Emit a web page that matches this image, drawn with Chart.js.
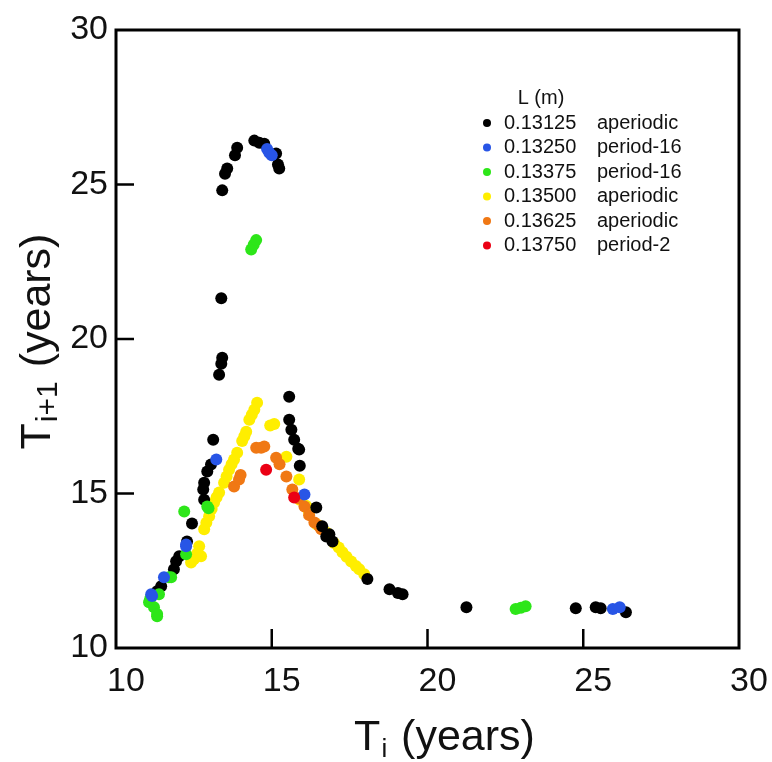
<!DOCTYPE html>
<html>
<head>
<meta charset="utf-8">
<script src="https://cdn.jsdelivr.net/npm/chart.js@4/dist/chart.umd.min.js"></script>
<style>
  html, body { margin: 0; padding: 0; background: #fff; overflow: hidden; }
  #wrap { width: 772px; height: 762px; }
</style>
</head>
<body>
<div id="wrap"><canvas id="c" width="772" height="762"></canvas></div>
<script>
// ===== data =====
const lengths = ['0.13125', '0.13250', '0.13375', '0.13500', '0.13625', '0.13750'];
const regimes = ['aperiodic', 'period-16', 'period-16', 'aperiodic', 'aperiodic', 'period-2'];
const colors  = ['#000000', 'rgb(40,85,230)', 'rgb(45,230,25)', 'rgb(255,238,0)', 'rgb(240,120,20)', 'rgb(235,0,20)'];
// stacking: lower number is drawn on top (red, blue, green over black, black over orange/yellow)
const drawOrder = [3, 1, 2, 5, 4, 0];
const xTicks = [10, 15, 20, 25, 30];
const yTicks = [10, 15, 20, 25, 30];

// L = 0.13125 (aperiodic)
const blackX = [11.32, 11.45, 11.86, 11.93, 12.03, 12.28, 12.44, 12.83, 12.80, 12.83, 12.93, 13.05, 13.12,
  13.31, 13.38, 13.41, 13.38, 13.41, 13.50, 13.57, 13.82, 13.89, 14.44, 14.60, 14.76, 15.14, 15.20, 15.24,
  15.56, 15.56, 15.63, 15.72, 15.85, 15.88, 15.90, 16.43, 16.62, 16.75, 16.85, 16.95, 18.07, 18.78, 19.05,
  19.20, 21.25, 24.76, 25.40, 25.56, 26.37];
const blackY = [11.84, 12.00, 12.55, 12.81, 12.97, 13.45, 14.03, 14.80, 15.13, 15.35, 15.71, 15.94, 16.74,
  18.84, 19.20, 19.39, 21.32, 24.81, 25.35, 25.52, 25.95, 26.19, 26.42, 26.35, 26.32, 26.00, 25.65, 25.52,
  18.13, 17.39, 17.06, 16.74, 16.45, 16.42, 15.90, 14.55, 13.94, 13.61, 13.68, 13.45, 12.23, 11.90, 11.78,
  11.74, 11.32, 11.29, 11.32, 11.29, 11.16];

// L = 0.13250 (period-16)
const blueX = [11.13, 11.16, 11.54, 12.25, 12.25, 13.22, 14.85, 14.92, 15.00, 16.05, 25.95, 26.17];
const blueY = [11.74, 11.68, 12.29, 13.29, 13.35, 16.10, 26.15, 26.03, 25.95, 14.97, 11.26, 11.32];

// L = 0.13375 (period-16)
const greenX = [11.06, 11.10, 11.22, 11.32, 11.32, 11.38, 11.70, 11.77, 12.25, 12.19, 12.93, 12.97,
  14.34, 14.42, 14.50, 22.83, 23.00, 23.15];
const greenY = [11.48, 11.60, 11.32, 11.03, 11.10, 11.74, 12.29, 12.29, 13.03, 14.42, 14.58, 14.52,
  22.90, 23.05, 23.20, 11.26, 11.30, 11.35];

// L = 0.13500 (aperiodic)
const yellowX = [12.41, 12.50, 12.60, 12.67, 12.73, 12.83, 12.90, 12.99, 13.07, 13.15, 13.23, 13.31, 13.47,
  13.55, 13.63, 13.71, 13.79, 13.89, 14.05, 14.12, 14.18, 14.28, 14.36, 14.44, 14.53, 14.95, 15.08, 15.47,
  15.88, 15.90, 16.10, 16.20, 16.45, 16.60, 16.75, 17.00, 17.15, 17.27, 17.40, 17.55, 17.70, 17.81, 17.97];
const yellowY = [12.77, 12.87, 13.05, 13.29, 12.97, 13.84, 14.05, 14.26, 14.50, 14.71, 14.88, 15.03, 15.35,
  15.55, 15.77, 15.95, 16.10, 16.32, 16.70, 16.85, 17.00, 17.39, 17.55, 17.71, 17.94, 17.20, 17.25, 16.19,
  15.45, 14.80, 14.60, 14.39, 14.00, 13.90, 13.74, 13.40, 13.25, 13.10, 12.95, 12.80, 12.65, 12.55, 12.39];

// L = 0.13625 (aperiodic)
const orangeX = [13.79, 13.95, 14.00, 14.50, 14.66, 14.76, 15.14, 15.25, 15.47, 15.66, 15.85, 16.05, 16.20,
  16.37, 16.53, 16.59];
const orangeY = [15.23, 15.45, 15.60, 16.48, 16.48, 16.52, 16.16, 15.95, 15.55, 15.13, 14.85, 14.58, 14.30,
  14.06, 13.94, 13.84];

// L = 0.13750 (period-2)
const redX = [14.82, 15.72];
const redY = [15.77, 14.87];

const seriesX = [blackX, blueX, greenX, yellowX, orangeX, redX];
const seriesY = [blackY, blueY, greenY, yellowY, orangeY, redY];

const FONT = "'Liberation Sans', Arial, Helvetica, sans-serif";

// frame, inward tick marks, axis titles with subscripts, and the two-column legend
const decorations = {
  id: 'decorations',
  afterDraw(chart) {
    const { ctx, chartArea: a, scales } = chart;
    ctx.save();
    ctx.strokeStyle = '#000';
    ctx.lineWidth = 3;
    ctx.strokeRect(a.left, a.top, a.right - a.left, a.bottom - a.top);

    ctx.lineWidth = 2.5;
    ctx.beginPath();
    xTicks.slice(1, -1).forEach(v => {
      const px = scales.x.getPixelForValue(v);
      ctx.moveTo(px, a.bottom); ctx.lineTo(px, a.bottom - 19);
    });
    yTicks.slice(1, -1).forEach(v => {
      const py = scales.y.getPixelForValue(v);
      ctx.moveTo(a.left, py); ctx.lineTo(a.left + 18, py);
    });
    ctx.stroke();

    // axis titles
    const drawSub = (main, sub, rest, cx, base, subSize) => {
      ctx.font = `43px ${FONT}`;
      const w1 = ctx.measureText(main).width;
      const w3 = ctx.measureText(rest).width;
      ctx.font = `${subSize}px ${FONT}`;
      const w2 = ctx.measureText(sub).width;
      let x = cx - (w1 + w2 + w3) / 2;
      ctx.fillStyle = '#111';
      ctx.textAlign = 'left';
      ctx.textBaseline = 'alphabetic';
      ctx.font = `43px ${FONT}`;
      ctx.fillText(main, x, base); x += w1 + 1;
      ctx.font = `${subSize}px ${FONT}`;
      ctx.fillText(sub, x, base + 7); x += w2 + 2;
      ctx.font = `43px ${FONT}`;
      ctx.fillText(rest, x, base);
    };
    drawSub('T', 'i', ' (years)', 443, 750, 26);
    ctx.save();
    ctx.translate(50, 343);
    ctx.rotate(-Math.PI / 2);
    drawSub('T', 'i+1', ' (years)', 0, 0, 30);
    ctx.restore();

    // legend
    ctx.fillStyle = '#111';
    ctx.font = `20px ${FONT}`;
    ctx.textAlign = 'center';
    ctx.textBaseline = 'middle';
    ctx.fillText('L (m)', 541, 98);
    ctx.textAlign = 'left';
    lengths.forEach((l, i) => {
      const y = 123 + i * 24.5;
      ctx.fillStyle = colors[i];
      ctx.beginPath();
      ctx.arc(487, y, 4, 0, Math.PI * 2);
      ctx.fill();
      ctx.fillStyle = '#111';
      ctx.fillText(l, 504, y);
      ctx.fillText(regimes[i], 597, y);
    });
    ctx.restore();
  }
};

new Chart(document.getElementById('c'), {
  type: 'scatter',
  data: {
    datasets: lengths.map((l, i) => ({
      label: l,
      data: seriesX[i].map((x, j) => ({ x, y: seriesY[i][j] })),
      backgroundColor: colors[i],
      borderColor: colors[i],
      borderWidth: 0,
      pointRadius: 6,
      pointHoverRadius: 6,
      order: drawOrder[i]
    }))
  },
  options: {
    responsive: false,
    animation: false,
    layout: { padding: { top: 30, right: 33, left: 0, bottom: 0 } },
    plugins: { legend: { display: false }, tooltip: { enabled: false } },
    scales: {
      x: {
        type: 'linear', min: 10, max: 30,
        afterBuildTicks: s => { s.ticks = xTicks.map(v => ({ value: v })); },
        ticks: { font: { size: 34, family: FONT }, color: '#111', padding: 13, labelOffset: 10, maxRotation: 0 },
        grid: { display: false, drawTicks: false },
        border: { display: false },
        afterFit: s => { s.height = 114; }
      },
      y: {
        type: 'linear', min: 10, max: 30,
        afterBuildTicks: s => { s.ticks = yTicks.map(v => ({ value: v })); },
        ticks: { font: { size: 34, family: FONT }, color: '#111', padding: 8 },
        grid: { display: false, drawTicks: false },
        border: { display: false },
        afterFit: s => { s.width = 116; }
      }
    }
  },
  plugins: [decorations]
});
</script>
</body>
</html>
